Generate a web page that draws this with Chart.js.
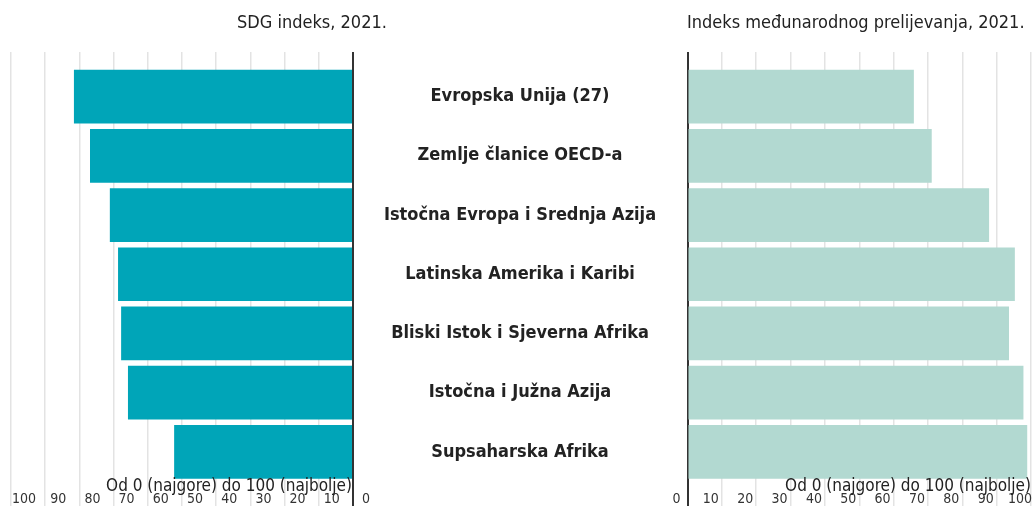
<!DOCTYPE html>
<html>
<head>
<meta charset="utf-8">
<script src="https://cdn.jsdelivr.net/npm/chart.js@4.4.1/dist/chart.umd.min.js"></script>
<style>
  body { margin: 0; background: #fff; width: 1035px; height: 506px; overflow: hidden; position: relative; }
  canvas { position: absolute; top: 0; }
  .txt { position: absolute; white-space: nowrap; color: #222; font-family: "DejaVu Sans Condensed", "DejaVu Sans", sans-serif; line-height: 20px; }
</style>
</head>
<body>
<canvas id="sdg-chart" width="687" height="506" style="left:0"></canvas>
<canvas id="spill-chart" width="368" height="506" style="left:667px"></canvas>

<div class="txt" style="left:237px; top:12px; font-size:18px;">SDG indeks, 2021.</div>
<div class="txt" style="left:687px; top:12px; font-size:18px;">Indeks međunarodnog prelijevanja, 2021.</div>
<div class="txt" style="right:683px; top:475px; font-size:17px;">Od 0 (najgore) do 100 (najbolje)</div>
<div class="txt" style="right:4px; top:475px; font-size:17px;">Od 0 (najgore) do 100 (najbolje)</div>

<script>
// values
const categories = [
  'Evropska Unija (27)',
  'Zemlje članice OECD-a',
  'Istočna Evropa i Srednja Azija',
  'Latinska Amerika i Karibi',
  'Bliski Istok i Sjeverna Afrika',
  'Istočna i Južna Azija',
  'Supsaharska Afrika',
];
const sdgIndex = [81.6, 76.9, 71.1, 68.7, 67.8, 65.8, 52.3];
const spilloverIndex = [65.9, 71.1, 87.8, 95.3, 93.6, 97.8, 98.9];
const axisMin = 0;
const axisMax = 100;
const axisStep = 10;

const FONT = '"DejaVu Sans Condensed", "DejaVu Sans", sans-serif';
const labelFont = { family: FONT, size: 18, weight: 'bold' };
const tickFont = { family: FONT, size: 14 };

// center the category labels in the gap between the two panels
const measure = document.createElement('canvas').getContext('2d');
measure.font = `bold ${labelFont.size}px ${FONT}`;
const widest = Math.max(...categories.map((c) => measure.measureText(c).width));
const labelPadding = 167 - widest / 2;

const gridColor = (ctx) => (ctx.tick && ctx.tick.value === 0 ? '#333' : '#e3e3e3');
const gridWidth = (ctx) => (ctx.tick && ctx.tick.value === 0 ? 2 : 1.5);

function noSidePadding(scale) {
  scale.paddingLeft = 0;
  scale.paddingRight = 0;
}

function xAxes(reverse, labelOffset) {
  return {
    x: {
      type: 'linear',
      position: 'bottom',
      min: axisMin,
      max: axisMax,
      reverse: reverse,
      border: { display: false },
      grid: { color: gridColor, lineWidth: gridWidth, tickLength: 25 },
      ticks: { stepSize: axisStep, font: tickFont, color: '#333', padding: -16, labelOffset: labelOffset, maxRotation: 0, autoSkip: false },
      afterFit: (scale) => { scale.height = 24.5; noSidePadding(scale); },
    },
    xTop: {
      type: 'linear',
      position: 'top',
      min: axisMin,
      max: axisMax,
      reverse: reverse,
      border: { display: false },
      grid: { color: gridColor, lineWidth: gridWidth, tickLength: 15, drawOnChartArea: false },
      ticks: { stepSize: axisStep, display: false },
      afterFit: (scale) => { scale.height = 15; noSidePadding(scale); },
    },
  };
}

const commonOptions = {
  responsive: false,
  animation: false,
  indexAxis: 'y',
  plugins: { legend: { display: false }, tooltip: { enabled: false } },
};

new Chart(document.getElementById('sdg-chart'), {
  type: 'bar',
  data: {
    labels: categories,
    datasets: [{
      data: sdgIndex,
      xAxisID: 'x',
      backgroundColor: '#00A5B8',
      borderWidth: 0,
      categoryPercentage: 1,
      barPercentage: 0.907,
    }],
  },
  options: {
    ...commonOptions,
    layout: { padding: { top: 52, left: 11, right: 0, bottom: 0 } },
    scales: {
      ...xAxes(true, 13),
      y: {
        position: 'right',
        z: 1,
        border: { display: true, color: '#333', width: 2 },
        grid: { display: false, drawTicks: false },
        ticks: { font: labelFont, color: '#222', crossAlign: 'center', padding: labelPadding },
        afterFit: (scale) => {
          scale.width = 334;
          scale.paddingTop = 0;
          scale.paddingBottom = 0;
        },
      },
    },
  },
});

new Chart(document.getElementById('spill-chart'), {
  type: 'bar',
  data: {
    labels: categories,
    datasets: [{
      data: spilloverIndex,
      xAxisID: 'x',
      backgroundColor: '#B2D9D1',
      borderWidth: 0,
      categoryPercentage: 1,
      barPercentage: 0.907,
    }],
  },
  options: {
    ...commonOptions,
    layout: { padding: { top: 52, left: 20.5, right: 4, bottom: 0 } },
    scales: {
      ...xAxes(false, -11),
      y: {
        position: 'left',
        z: 1,
        border: { display: true, color: '#333', width: 2 },
        grid: { display: false, drawTicks: false },
        ticks: { display: false },
        afterFit: (scale) => {
          scale.width = 0;
          scale.paddingTop = 0;
          scale.paddingBottom = 0;
        },
      },
    },
  },
});
</script>
</body>
</html>
